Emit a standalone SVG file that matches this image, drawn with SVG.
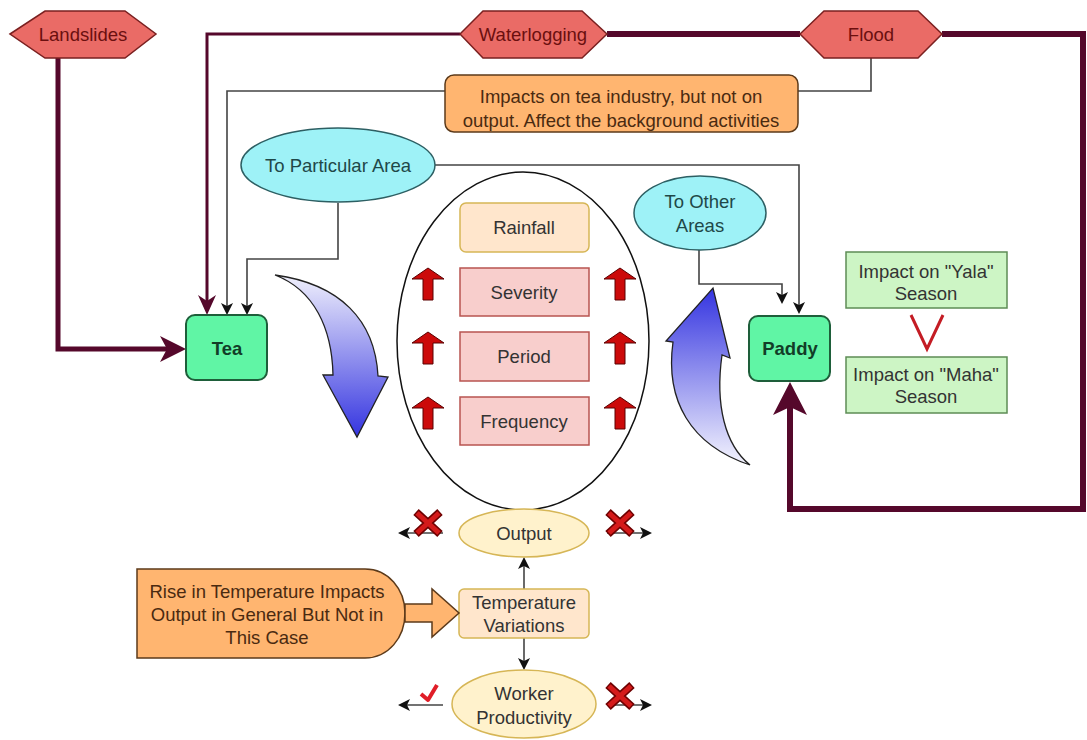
<svg xmlns="http://www.w3.org/2000/svg" width="1087" height="740" viewBox="0 0 1087 740">
  <style>
    text { font-family: "Liberation Sans", Arial, sans-serif; font-size: 18.5px; text-anchor: middle; dominant-baseline: central; fill: #333; }
    .hex { fill: #ea6b66; stroke: #7a2020; stroke-width: 1.5; }
    .hex-t { fill: #6b0f0f; }
    .cyan { fill: #9ef2f7; stroke: #2d5f63; stroke-width: 1.5; }
    .cyan-t { fill: #1f4848; }
    .crop { fill: #60f5a5; stroke: #1e5e3a; stroke-width: 2; }
    .crop-t { font-weight: bold; fill: #123d28; }
    .season { fill: #cdf5c5; stroke: #5d8c55; stroke-width: 1.5; }
    .peach { fill: #ffe6cc; stroke: #d6b656; stroke-width: 1.5; }
    .pink { fill: #f8cecc; stroke: #b85450; stroke-width: 1.5; }
    .cream { fill: #fff2cc; stroke: #d6b656; stroke-width: 1.5; }
    .orange { fill: #ffb570; stroke: #5c3a1a; stroke-width: 1.5; }
    .orange-t { fill: #4a2a10; }
    .maroon { fill: none; stroke: #55082b; stroke-linejoin: miter; }
    .thin { fill: none; stroke: #444; stroke-width: 1.6; }
    .up { fill: #cc0a0a; stroke: #5a0000; stroke-width: 1; }
    .xout { stroke: #6e0000; stroke-width: 8; stroke-linecap: butt; }
    .xin { stroke: #d41a1a; stroke-width: 5; stroke-linecap: butt; }
  </style>
  <defs>
    <marker id="arrBlack" viewBox="0 0 12 12" markerWidth="12" markerHeight="12" markerUnits="userSpaceOnUse" refX="3" refY="6" orient="auto">
      <path d="M0,0 L12,6 L0,12 L3,6 Z" fill="#111"/>
    </marker>
    <marker id="arrMaroonS" viewBox="0 0 20 18" markerWidth="20" markerHeight="18" markerUnits="userSpaceOnUse" refX="6" refY="9" orient="auto">
      <path d="M0,0 L20,9 L0,18 L6,9 Z" fill="#55082b"/>
    </marker>
    <marker id="arrMaroonM" viewBox="0 0 26 26" markerWidth="26" markerHeight="26" markerUnits="userSpaceOnUse" refX="7" refY="13" orient="auto">
      <path d="M0,0 L26,13 L0,26 L7,13 Z" fill="#55082b"/>
    </marker>
    <marker id="arrMaroonL" viewBox="0 0 33 34" markerWidth="33" markerHeight="34" markerUnits="userSpaceOnUse" refX="8" refY="17" orient="auto">
      <path d="M0,0 L33,17 L0,34 L8,17 Z" fill="#55082b"/>
    </marker>
    <linearGradient id="gradDown" x1="0" y1="0" x2="0" y2="1">
      <stop offset="0" stop-color="#f0f0fc"/>
      <stop offset="1" stop-color="#3434e0"/>
    </linearGradient>
    <linearGradient id="gradUp" x1="0" y1="0" x2="0" y2="1">
      <stop offset="0" stop-color="#3434e0"/>
      <stop offset="1" stop-color="#f4f4fd"/>
    </linearGradient>
    <g id="redUp">
      <path class="up" d="M-16,11 L0,0 L16,11 L5,11 L5,32 L-5,32 L-5,11 Z"/>
    </g>
    <g id="redX">
      <path class="xout" d="M-12,-11 L12,11 M12,-11 L-12,11"/>
      <path class="xin" d="M-11,-10 L11,10 M11,-10 L-11,10"/>
    </g>
  </defs>

  <rect width="1087" height="740" fill="#ffffff"/>

  <!-- connectors -->
  <g id="connectors">
    <!-- landslides into tea -->
    <path class="maroon" stroke-width="5" d="M58,58 V349 H167" marker-end="url(#arrMaroonM)"/>
    <!-- waterlogging into tea -->
    <path class="maroon" stroke-width="3" d="M460,34 H207 V301" marker-end="url(#arrMaroonS)"/>
    <!-- waterlogging to flood to paddy -->
    <path class="maroon" stroke-width="6" d="M607,34 H800"/>
    <path class="maroon" stroke-width="6" d="M942,34 H1083 V509 H790 V407" marker-end="url(#arrMaroonL)"/>
    <!-- flood note -->
    <path class="thin" d="M871,58 V91 H798"/>
    <path class="thin" d="M445,91 H227 V306" marker-end="url(#arrBlack)"/>
    <!-- particular area -->
    <path class="thin" d="M338,203 V259 H247 V306" marker-end="url(#arrBlack)"/>
    <path class="thin" stroke="#555" stroke-width="2" d="M435,165 H799 V305" marker-end="url(#arrBlack)"/>
    <!-- other areas -->
    <path class="thin" d="M699,250 V284 H782 V295" marker-end="url(#arrBlack)"/>
    <!-- temperature -->
    <path class="thin" d="M524,589 V566" marker-end="url(#arrBlack)"/>
    <path class="thin" d="M524,638 V661" marker-end="url(#arrBlack)"/>
    <path class="thin" d="M443,533 H407" marker-end="url(#arrBlack)"/>
    <path class="thin" d="M607,533 H643" marker-end="url(#arrBlack)"/>
    <path class="thin" d="M443,705 H407" marker-end="url(#arrBlack)"/>
    <path class="thin" d="M607,705 H643" marker-end="url(#arrBlack)"/>
  </g>

  <!-- hazards -->
  <g id="landslides">
    <polygon class="hex" points="10,34 45,11 125,11 156,34 125,58 45,58"/>
    <text class="hex-t" x="83" y="34">Landslides</text>
  </g>
  <g id="waterlogging">
    <polygon class="hex" points="460,34 483,11 582,11 607,34 582,58 483,58"/>
    <text class="hex-t" x="533" y="34">Waterlogging</text>
  </g>
  <g id="flood">
    <polygon class="hex" points="800,34 824,11 918,11 942,34 918,58 824,58"/>
    <text class="hex-t" x="871" y="34">Flood</text>
  </g>

  <g id="tea-note">
    <rect class="orange" x="445" y="75" width="353" height="57" rx="9"/>
    <text class="orange-t" x="621" y="96">Impacts on tea industry, but not on</text>
    <text class="orange-t" x="621" y="120">output. Affect the background activities</text>
  </g>

  <g id="particular-area">
    <ellipse class="cyan" cx="338" cy="165" rx="97" ry="37"/>
    <text class="cyan-t" x="338" y="165">To Particular Area</text>
  </g>
  <g id="other-areas">
    <ellipse class="cyan" cx="700" cy="213" rx="66" ry="37"/>
    <text class="cyan-t" x="700" y="201">To Other</text>
    <text class="cyan-t" x="700" y="225">Areas</text>
  </g>

  <g id="tea">
    <rect class="crop" x="186" y="315" width="81" height="65" rx="9"/>
    <text class="crop-t" x="227" y="348">Tea</text>
  </g>
  <g id="paddy">
    <rect class="crop" x="749" y="316" width="81" height="65" rx="9"/>
    <text class="crop-t" x="790" y="348">Paddy</text>
  </g>

  <g id="yala">
    <rect class="season" x="846" y="252" width="161" height="56"/>
    <text x="926" y="271">Impact on "Yala"</text>
    <text x="926" y="293">Season</text>
  </g>
  <path id="versus" d="M911,315 L927,349 L943,315" fill="none" stroke="#c41c24" stroke-width="3"/>
  <g id="maha">
    <rect class="season" x="846" y="357" width="161" height="56"/>
    <text x="926" y="374">Impact on "Maha"</text>
    <text x="926" y="396">Season</text>
  </g>

  <!-- rainfall factors -->
  <g id="rainfall-factors">
    <ellipse cx="523" cy="341" rx="126" ry="169" fill="none" stroke="#111" stroke-width="1.5"/>
  </g>
  <g id="rainfall">
    <rect class="peach" x="460" y="203" width="129" height="49" rx="6"/>
    <text x="524" y="227">Rainfall</text>
  </g>
  <g id="severity">
    <rect class="pink" x="460" y="268" width="129" height="48"/>
    <text x="524" y="292">Severity</text>
  </g>
  <g id="period">
    <rect class="pink" x="460" y="332" width="129" height="49"/>
    <text x="524" y="356">Period</text>
  </g>
  <g id="frequency">
    <rect class="pink" x="460" y="397" width="129" height="48"/>
    <text x="524" y="421">Frequency</text>
  </g>
  <g id="increase-arrows">
    <use href="#redUp" x="428" y="268"/>
    <use href="#redUp" x="428" y="332"/>
    <use href="#redUp" x="428" y="397"/>
    <use href="#redUp" x="620" y="268"/>
    <use href="#redUp" x="620" y="332"/>
    <use href="#redUp" x="620" y="397"/>
  </g>

  <g id="flow-down">
    <path d="M275,275 C340,284 375,320 378,376 L388,377 L357,437 L323,375 L333,375 C332,328 314,290 275,275 Z" fill="url(#gradDown)" stroke="#222" stroke-width="1.3"/>
  </g>
  <g id="flow-up">
    <path d="M750,465 C690,445 665,400 673,342 L666,341 L713,288 L730,358 L722,355 C715,405 725,445 750,465 Z" fill="url(#gradUp)" stroke="#222" stroke-width="1.3"/>
  </g>

  <!-- temperature -->
  <g id="output">
    <ellipse class="cream" cx="524" cy="533" rx="65" ry="24"/>
    <text x="524" y="533">Output</text>
  </g>
  <g id="temperature">
    <rect class="peach" x="459" y="589" width="130" height="49" rx="5"/>
    <text x="524" y="602">Temperature</text>
    <text x="524" y="625">Variations</text>
  </g>
  <g id="worker">
    <ellipse class="cream" cx="524" cy="704" rx="72" ry="34"/>
    <text x="524" y="693">Worker</text>
    <text x="524" y="717">Productivity</text>
  </g>
  <g id="rise-note">
    <path class="orange" d="M137,569 H365 C388,569 405,589 405,613 C405,638 388,658 365,658 H137 Z"/>
    <text class="orange-t" x="267" y="591">Rise in Temperature Impacts</text>
    <text class="orange-t" x="267" y="614">Output in General But Not in</text>
    <text class="orange-t" x="267" y="637">This Case</text>
  </g>
  <g id="rise-arrow">
    <polygon class="orange" points="405,604 432,604 432,589 459,613 432,637 432,622 405,622"/>
  </g>

  <g id="marks">
    <use href="#redX" x="428" y="523"/>
    <use href="#redX" x="620" y="523"/>
    <use href="#redX" x="620" y="696"/>
    <path d="M421,694 L428,700 L437,685" fill="none" stroke="#e01e28" stroke-width="4" stroke-linejoin="round"/>
  </g>
</svg>
